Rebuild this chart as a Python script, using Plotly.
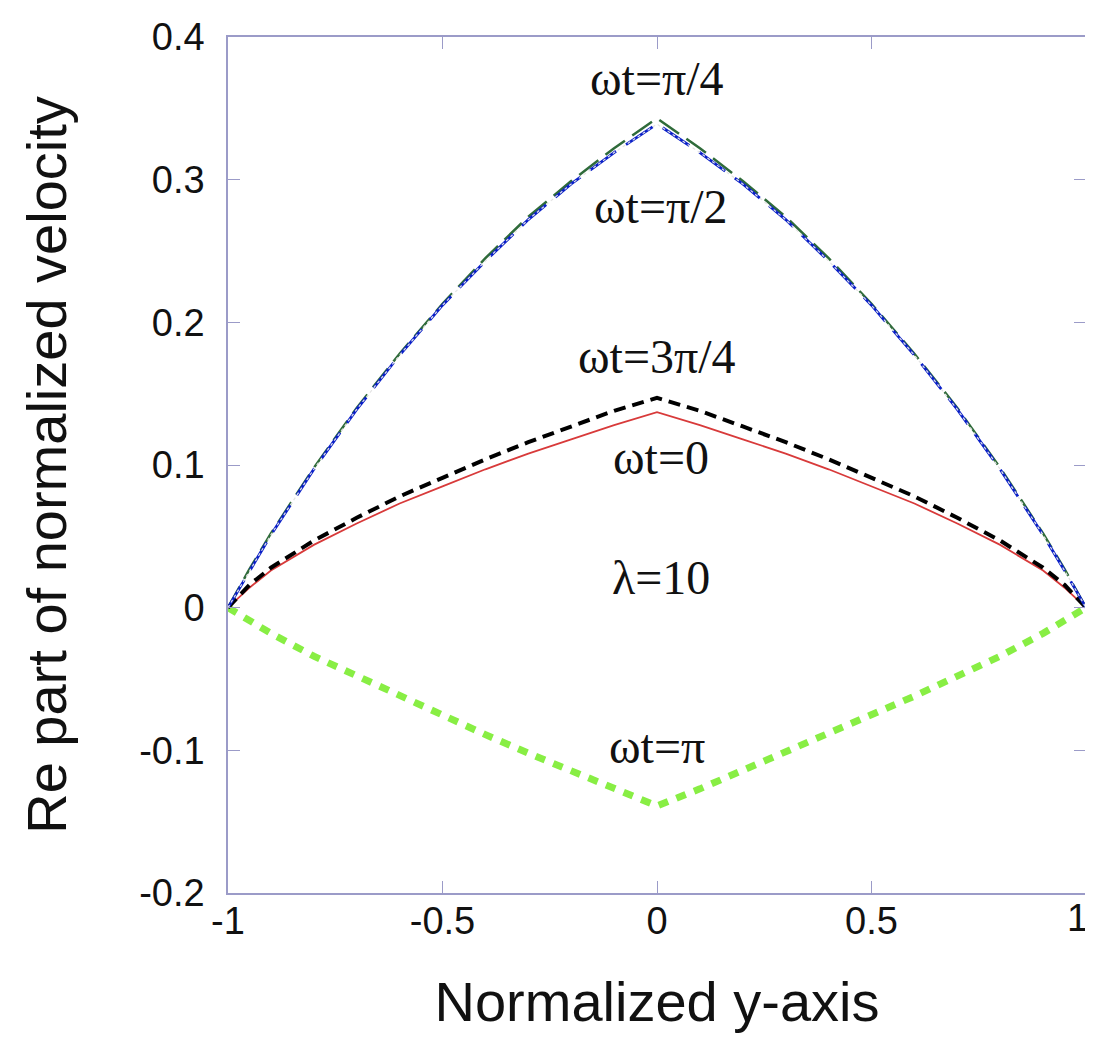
import plotly.graph_objects as go

x_vals = [-1, -0.95, -0.9, -0.8, -0.7, -0.6, -0.5, -0.4, -0.3, -0.2, -0.1, 0,
          0.1, 0.2, 0.3, 0.4, 0.5, 0.6, 0.7, 0.8, 0.9, 0.95, 1]

v_pi4 = [0, 0.027, 0.052, 0.098, 0.140, 0.178, 0.213, 0.245, 0.274, 0.299, 0.322, 0.343,
         0.322, 0.299, 0.274, 0.245, 0.213, 0.178, 0.140, 0.098, 0.052, 0.027, 0]
v_pi2 = [0, 0.026, 0.051, 0.097, 0.139, 0.177, 0.212, 0.243, 0.272, 0.297, 0.319, 0.339,
         0.319, 0.297, 0.272, 0.243, 0.212, 0.177, 0.139, 0.097, 0.051, 0.026, 0]
v_3pi4 = [0, 0.016, 0.028, 0.047, 0.063, 0.078, 0.091, 0.104, 0.116, 0.127, 0.138, 0.147,
          0.138, 0.127, 0.116, 0.104, 0.091, 0.078, 0.063, 0.047, 0.028, 0.016, 0]
v_0 = [0, 0.014, 0.026, 0.044, 0.059, 0.073, 0.085, 0.097, 0.108, 0.118, 0.128, 0.137,
       0.128, 0.118, 0.108, 0.097, 0.085, 0.073, 0.059, 0.044, 0.026, 0.014, 0]
v_pi = [0, -0.009, -0.018, -0.034, -0.048, -0.062, -0.076, -0.089, -0.102, -0.114, -0.127, -0.139,
        -0.127, -0.114, -0.102, -0.089, -0.076, -0.062, -0.048, -0.034, -0.018, -0.009, 0]

x_ticks = [-1, -0.5, 0, 0.5, 1]
x_tick_text = ["-1", "-0.5", "0", "0.5", "1"]
y_ticks = [-0.2, -0.1, 0, 0.1, 0.2, 0.3, 0.4]
y_tick_text = ["-0.2", "-0.1", "0", "0.1", "0.2", "0.3", "0.4"]

labels = ["ωt=π/4", "ωt=π/2", "ωt=3π/4", "ωt=0", "λ=10", "ωt=π"]
label_x = [0, 0.01, 0, 0.01, 0.01, 0]
label_y = [0.371, 0.281, 0.176, 0.105, 0.021, -0.097]

fig = go.Figure()
fig.add_trace(go.Scatter(x=x_vals, y=v_pi, mode="lines",
                         line=dict(color="#88ee44", width=7, dash="10px,9px")))
fig.add_trace(go.Scatter(x=x_vals, y=v_0, mode="lines",
                         line=dict(color="#d83a3a", width=1.8)))
fig.add_trace(go.Scatter(x=x_vals, y=v_3pi4, mode="lines",
                         line=dict(color="#000000", width=4, dash="12px,7px")))
fig.add_trace(go.Scatter(x=x_vals, y=v_pi4, mode="lines",
                         line=dict(color="#2f6b3a", width=2.5, dash="24px,9px")))
fig.add_trace(go.Scatter(x=x_vals, y=v_pi2, mode="lines",
                         line=dict(color="#0a1fc8", width=2.8, dash="32px,12px")))
fig.add_trace(go.Scatter(x=x_vals, y=v_pi2, mode="lines",
                         line=dict(color="#e4e4e4", width=1.2, dash="dot")))

for t, lx, ly in zip(labels, label_x, label_y):
    fig.add_annotation(x=lx, y=ly, text=t, showarrow=False,
                       font=dict(family="Liberation Serif", size=48, color="#111111"))

axis_color = "#9b9bc8"
tick_font = dict(family="Liberation Sans", size=38, color="#111111")
fig.update_xaxes(range=[-1, 1], tickvals=x_ticks[:-1], ticktext=x_tick_text[:-1],
                 ticks="inside", ticklen=12, tickcolor=axis_color,
                 showline=True, linecolor=axis_color, linewidth=1.5, mirror="ticks",
                 showgrid=False, zeroline=False, automargin=False,
                 tickfont=tick_font, ticklabelstandoff=-6,
                 title=dict(text="Normalized y-axis", standoff=40,
                            font=dict(family="Liberation Sans", size=56, color="#111111")))
# last x tick label placed as annotation so it is not clipped at the window edge
fig.add_annotation(x=x_ticks[-1], y=0, yref="paper", yanchor="top", yshift=-2,
                   xanchor="center", xshift=-9, text=x_tick_text[-1], showarrow=False,
                   font=tick_font)
fig.add_shape(type="line", xref="x", yref="paper", x0=1, x1=1, y0=0, y1=1,
              line=dict(color="#8a8a9a", width=1.5))
fig.update_yaxes(range=[-0.2, 0.4], tickvals=y_ticks, ticktext=y_tick_text,
                 ticks="inside", ticklen=12, tickcolor=axis_color,
                 showline=True, linecolor=axis_color, linewidth=1.5, mirror="ticks",
                 showgrid=False, zeroline=False, automargin=False,
                 tickfont=tick_font, ticklabelstandoff=14,
                 title=dict(text="Re part of normalized velocity", standoff=55,
                            font=dict(family="Liberation Sans", size=56, color="#111111")))

fig.update_layout(width=1085, height=1040, showlegend=False,
                  plot_bgcolor="white", paper_bgcolor="white",
                  margin=dict(l=220, r=7, t=29, b=155))

fig.write_html("out.html")
